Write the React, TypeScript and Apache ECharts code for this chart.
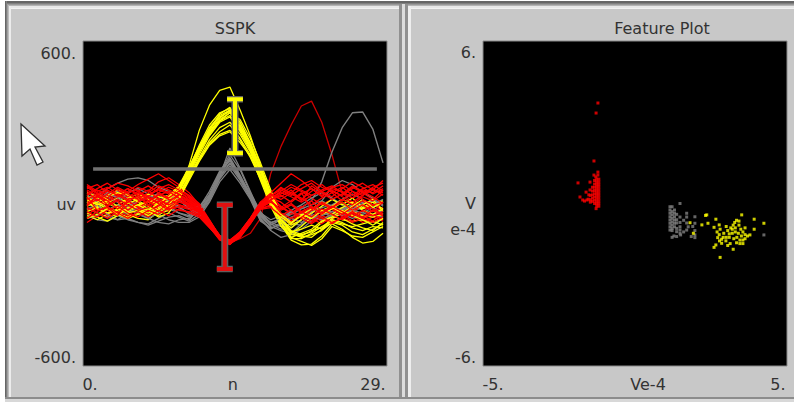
import React, { useEffect, useRef } from "react";
import * as echarts from "echarts";

const FONT = "DejaVu Sans";
const TEXT = "#333333";

const yellowTraces = [
  [30,10,-15,-30,-20,-5,5,-10,15,50,140,270,363,418,430,345,250,140,30,-80,-135,-153,-150,-120,-75,-95,-125,-146,-140,-110],
  [-20,-35,-50,-40,-25,-10,-30,-45,-5,40,125,205,280,325,345,300,225,130,25,-70,-125,-140,-155,-130,-85,-100,-120,-125,-105,-85],
  [10,20,0,-15,-40,-55,-60,-30,5,45,110,190,260,310,335,310,240,150,50,-50,-110,-125,-115,-100,-70,-80,-105,-115,-95,-75],
  [40,25,30,50,35,10,-10,-30,-20,25,105,180,250,300,320,265,195,105,15,-65,-105,-95,-80,-95,-70,-55,-75,-90,-100,-70],
  [-45,-60,-40,-20,10,25,15,-5,10,55,120,200,270,330,355,290,205,115,20,-55,-100,-115,-105,-70,-45,-60,-65,-60,-70,-55],
  [0,-10,-25,-5,20,35,20,10,20,60,130,215,290,335,350,275,200,100,5,-75,-110,-85,-50,-25,-10,15,0,-20,-5,10],
  [-30,-15,5,20,5,-20,-35,-15,0,35,100,170,235,280,300,255,190,95,0,-80,-130,-130,-110,-85,-65,-75,-85,-75,-65,-80],
  [20,35,15,-10,-30,-15,5,20,30,65,135,210,275,320,340,280,215,125,35,-45,-80,-60,-35,-10,15,-5,20,-15,5,-20],
  [-55,-40,-20,-35,-50,-35,-15,-25,-10,30,95,160,225,265,290,240,180,85,-10,-85,-115,-120,-100,-90,-55,-35,-30,-45,-50,-40],
  [5,-20,-35,-25,0,15,35,25,15,50,115,195,265,315,345,300,220,120,15,-60,-90,-60,-20,5,-15,-35,-10,15,-15,5],
  [-10,5,25,40,30,5,-20,-40,-25,20,90,165,220,255,270,235,170,90,5,-70,-125,-110,-95,-65,-50,-25,-45,-60,-80,-55],
  [25,0,-20,-40,-55,-40,-25,0,25,60,125,200,265,305,325,270,210,120,30,-50,-75,-40,-55,-25,-40,-15,5,-25,-40,-20],
  [-35,-50,-65,-45,-15,-5,-25,-50,-35,15,85,155,215,250,265,225,175,100,10,-60,-105,-120,-125,-95,-60,-70,-90,-100,-85,-90],
  [15,-5,10,-20,-35,-25,-45,-20,-5,45,115,190,255,305,335,285,225,135,40,-40,-70,-45,-15,-40,-20,5,-25,-5,15,-30],
];

const redTraces = [
  [55,70,40,20,35,60,45,80,95,70,40,-5,-65,-125,-150,-115,-65,-10,30,55,40,70,85,60,45,30,55,75,50,40],
  [-25,-5,15,40,25,5,30,50,35,15,-10,-30,-80,-130,-145,-110,-60,-5,15,-15,-35,-50,-70,-45,-60,-30,-45,-70,-50,-65],
  [40,20,45,25,55,35,15,40,60,45,15,-20,-70,-120,-140,-120,-70,-15,20,40,25,5,30,50,65,40,20,40,55,30],
  [-70,-45,-20,-40,-10,20,5,-15,10,25,5,-25,-75,-128,-150,-105,-55,0,25,-10,-35,-10,-45,-65,-30,-15,-40,-60,-25,-50],
  [10,-15,-35,-5,15,-20,-40,-10,20,-5,-20,-40,-85,-135,-148,-125,-75,-20,-5,-40,-65,-30,-55,-75,-50,-20,-35,-5,-30,-15],
  [35,50,30,5,-15,10,30,55,40,20,-5,-35,-80,-125,-142,-115,-68,-12,15,35,60,45,20,-5,15,35,60,40,15,50],
  [-40,-20,-45,-25,5,-10,-30,-5,25,10,-15,-30,-70,-118,-135,-108,-62,-8,5,-45,-70,-35,-20,-55,-75,-50,-25,-45,-65,-35],
  [70,45,60,35,15,40,20,5,30,55,30,0,-60,-122,-146,-118,-66,-14,18,45,70,50,30,45,60,70,45,30,60,75],
  [20,-5,10,35,55,30,10,-20,0,30,10,-25,-78,-130,-152,-112,-58,-2,20,-10,-40,-15,10,-30,-10,-40,-65,-30,-5,-25],
  [-15,-35,-55,-30,-45,-20,-5,20,-10,-25,-30,-45,-88,-132,-140,-122,-72,-18,-10,-50,-75,-45,-65,-40,-20,-50,-70,-55,-40,-60],
  [50,30,5,25,45,70,90,110,85,60,25,-10,-68,-120,-144,-116,-64,-6,40,75,110,85,55,30,50,25,5,30,50,85],
  [0,25,50,30,10,-15,5,35,15,-5,-15,-35,-75,-126,-138,-106,-56,4,22,5,-25,-50,-25,0,-20,-40,-15,10,-20,-40],
  [-55,-30,-10,-35,-55,-30,-50,-25,-45,-20,-35,-50,-90,-128,-143,-119,-70,-22,-15,-45,-25,-55,-75,-50,-70,-55,-30,-55,-70,-50],
  [30,55,75,50,25,45,65,40,20,45,20,-15,-72,-124,-147,-113,-61,-9,28,50,30,55,75,45,25,55,80,60,35,55],
  [-5,15,-10,10,-25,5,25,0,-25,5,-5,-28,-76,-127,-141,-117,-69,-16,5,-20,0,-30,-10,-35,-15,5,-25,-5,-30,5],
  [65,40,20,55,35,15,40,65,50,35,5,-22,-74,-123,-139,-121,-67,-11,26,60,35,15,45,70,40,60,30,55,70,45],
  [-30,-50,-25,-10,-35,-50,-25,-40,-15,10,-10,-32,-82,-129,-151,-109,-59,-3,12,-35,-55,-30,-50,-20,-40,-60,-35,-50,-25,-45],
  [15,35,10,-20,5,30,50,15,-5,15,0,-18,-66,-121,-137,-111,-63,-7,33,15,40,20,-5,20,40,10,45,15,-5,5],
  [45,10,35,60,40,50,10,30,45,20,-2,-26,-77,-126,-149,-124,-74,-19,14,30,5,35,55,25,55,45,20,50,40,65],
  [-10,30,-5,15,-5,-25,-15,10,-20,-12,-22,-42,-84,-131,-145,-114,-60,-4,10,-25,-5,-35,-15,-40,-10,-30,-50,-25,-45,-30],
  [25,-25,-15,-45,15,25,-5,-30,5,35,12,-12,-62,-119,-136,-104,-54,6,38,-15,10,40,-20,5,-15,15,-5,25,10,35],
  [60,35,55,75,65,45,25,55,70,50,28,-8,-64,-124,-147,-120,-65,-13,16,25,50,10,65,40,15,35,65,45,25,0],
];

const redSpike = [-30,-10,-40,-20,15,-5,10,-15,-30,-5,-15,-35,-70,-118,-145,-130,-110,-55,110,210,290,360,378,300,180,40,5,-20,10,-5];

const grayTraces = [
  [20,5,-20,-45,-60,-70,-75,-55,-35,-50,-65,-40,10,95,150,90,30,-50,-85,-100,-110,-75,-40,10,60,85,70,40,20,-10],
  [-15,-35,-50,-60,-55,-70,-80,-65,-50,-45,-60,-20,35,115,180,125,40,-30,-75,-95,-90,-60,-30,-15,-5,15,35,15,-15,-30],
  [40,30,55,75,90,95,85,60,45,30,-10,-40,20,105,165,95,25,-55,-100,-125,-115,-95,-65,-25,-30,-45,-35,-55,-40,-25],
  [-40,-60,-65,-45,-30,-35,-55,-70,-75,-60,-55,-25,25,100,205,130,45,-40,-70,-85,-75,-80,-55,-45,-30,-15,-30,-15,-5,-20],
  [5,-15,5,25,15,-10,-30,-15,5,-15,-35,-15,45,120,160,100,35,-45,-80,-60,-40,-20,-5,10,-10,-25,-10,5,-5,15],
  [-55,-45,-25,-5,-20,-40,-55,-35,-20,-35,-50,-30,15,90,140,85,20,-60,-95,-70,-50,-35,-50,-60,-40,-20,-5,-25,-45,-50],
  [15,35,25,5,40,55,35,10,30,15,-20,-10,30,110,170,105,30,-35,-60,-45,-25,-5,20,40,20,-5,-20,0,10,-5],
  [-20,-5,-40,-60,-35,-15,-25,-40,-60,-70,-70,-50,5,80,125,75,15,-65,-90,-80,-55,-70,-45,-30,-50,-40,-55,-40,-25,-40],
  [30,10,40,20,-10,5,25,35,10,-10,-40,-25,20,100,150,95,35,-42,-72,-55,-30,-45,-20,-35,-15,-35,-25,-35,-15,5],
];

const graySpike = [-5,15,35,45,20,-20,-5,15,-10,-35,-45,-30,25,110,160,100,30,-40,-70,-60,-35,-15,10,80,190,280,335,338,275,150];

const thresholdLine = [[0.6, 127], [28.4, 127]];
const yellowStem = [[14.5, 385], [14.5, 186]];
const yellowCapTop = [[13.72, 385], [15.28, 385]];
const yellowCapBottom = [[13.72, 186], [15.28, 186]];
const redStem = [[13.5, -5], [13.5, -242]];
const redCapTop = [[12.72, -5], [14.28, -5]];
const redCapBottom = [[12.72, -242], [14.28, -242]];

const redPoints = [
  [-1.22,3.71],[-1.28,3.34],[-1.35,1.57],[-1.22,1.16],[-1.22,1.05],[-1.35,1.05],[-1.29,0.98],[-1.875,0.76],[-1.48,0.79],
  [-1.61,0.42],[-1.81,0.24],[-1.48,0.5],[-1.52,0.32],[-1.58,0.13],[-1.66,0.09],[-1.72,0.13],
  [-1.19,0.9],[-1.19,0.8],[-1.19,0.7],[-1.19,0.6],[-1.19,0.5],[-1.19,0.4],[-1.19,0.3],[-1.19,0.2],[-1.19,0.1],[-1.19,0.0],[-1.19,-0.1],
  [-1.26,0.9],[-1.26,0.8],[-1.26,0.7],[-1.26,0.6],[-1.26,0.5],[-1.26,0.4],[-1.26,0.3],[-1.26,0.2],[-1.26,0.1],[-1.26,0.0],[-1.26,-0.1],[-1.28,-0.19],
  [-1.33,0.85],[-1.33,0.72],[-1.33,0.6],[-1.33,0.48],[-1.33,0.36],[-1.33,0.24],[-1.33,0.12],[-1.33,0.0],
  [-1.4,0.6],[-1.4,0.46],[-1.4,0.32],[-1.4,0.2],[-1.4,0.08],[-1.47,0.3],[-1.47,0.14],[-1.47,0.05],[-1.54,0.16],
];

const grayPoints = [
  [1.15,-0.12],[1.15,-0.24],[1.15,-0.36],[1.15,-0.49],[1.15,-0.61],[1.15,-0.73],[1.15,-0.86],[1.15,-0.98],
  [1.22,-0.12],[1.22,-0.3],[1.22,-0.42],[1.22,-0.55],[1.22,-0.68],[1.22,-0.8],[1.22,-0.92],[1.22,-1.0],
  [1.3,-0.24],[1.3,-0.36],[1.3,-0.49],[1.3,-0.61],[1.3,-0.73],[1.3,-0.86],[1.37,-0.4],[1.37,-0.6],[1.37,-0.72],[1.37,-0.92],[1.37,-1.04],
  [1.48,-0.0],[1.48,-0.5],[1.48,-0.7],[1.48,-0.86],[1.48,-0.98],[1.48,-1.1],[1.28,-1.2],[1.37,-1.22],[1.22,-1.25],[1.5,-1.16],
  [1.6,-0.62],[1.7,-0.36],[1.7,-0.5],[1.7,-0.72],[1.75,-0.86],[1.7,-0.98],[1.6,-1.05],[1.97,-0.49],[1.97,-0.73],[1.9,-0.85],[1.97,-1.0],[1.97,-1.16],[1.85,-1.22],[1.97,-1.26],[4.24,-1.16],
];

const yellowPoints = [
  [1.81,-0.71],[1.92,-1.10],[2.36,-0.42],[2.32,-0.44],[3.51,-0.42],[2.66,-0.58],[3.92,-0.58],[4.24,-0.73],[2.20,-0.79],[2.4,-0.73],
  [2.77,-0.79],[2.6,-0.88],[3.92,-0.95],[3.78,-1.16],[2.80,-1.99],[2.60,-1.62],[2.66,-1.53],[2.85,-1.47],[2.99,-1.38],[3.23,-1.69],
  [2.7,-1.05],[2.77,-1.15],[2.72,-1.26],[2.8,-0.95],[3.0,-0.85],[3.05,-1.0],[3.1,-1.12],[2.92,-1.1],[3.15,-0.9],[3.23,-0.8],
  [3.28,-0.7],[3.34,-0.62],[3.2,-0.95],[3.3,-0.9],[3.42,-0.8],[3.48,-0.95],[3.55,-1.05],[3.62,-1.15],[3.5,-1.2],[3.4,-1.1],
  [3.3,-1.05],[3.2,-1.1],[3.1,-1.25],[3.0,-1.25],[2.9,-1.25],[3.25,-1.3],[3.35,-1.25],[3.45,-1.35],[3.55,-1.35],[3.62,-1.3],
  [3.7,-1.2],[3.34,-1.45],[3.45,-1.48],[3.55,-1.48],[3.13,-1.48],[3.05,-1.55],[2.85,-1.32],[2.78,-1.38],[3.62,-0.9],[3.42,-0.65],
];

const xTickLeft = [0.67, 14.3, 27.66];
const xLabelLeft = ["0.", "n", "29."];
const yTickLeft = [-570, -5, 555];
const yLabelLeft = ["-600.", "uv", "600."];
const xTickRight = [-4.67, 0.43, 4.7];
const xLabelRight = ["-5.", "Ve-4", "5."];
const yTickRight = [-5.7, 0, 5.56];
const yLabelRight = ["-6.", "\nV\ne-4", "6."];

const frameStrips = [
  ["#ffffff", 0, 0, 794, 1], ["#ffffff", 0, 0, 5, 402],
  ["#666666", 5, 1, 789, 2], ["#808080", 5, 3, 789, 1], ["#999999", 5, 4, 789, 1], ["#b4b4b4", 5, 5, 789, 1], ["#e8e8e8", 9, 6, 785, 2], ["#f2f2f2", 9, 8, 785, 1],
  ["#666666", 5, 1, 1, 397], ["#808080", 6, 1, 1, 397], ["#a0a0a0", 7, 4, 1, 394], ["#bdbdbd", 8, 5, 1, 393], ["#ececec", 9, 6, 2, 391],
  ["#909090", 399, 4, 3, 395], ["#dcdcdc", 402, 4, 3, 395], ["#909090", 405, 4, 3, 395], ["#eeeeee", 408, 6, 3, 391],
  ["#8c8c8c", 5, 397, 789, 2], ["#d8d8d8", 5, 399, 789, 3],
];

const cursorOutline = [[21, 124], [45, 146], [35, 147], [43, 162], [37, 165], [30, 149], [22, 156]];

function line(data: number[][], color: string, width: number, z: number) {
  return {
    type: "line", xAxisIndex: 1, yAxisIndex: 0, data, showSymbol: false, symbol: "none", z,
    lineStyle: { color, width, cap: "butt" }, silent: true, clip: true,
  };
}

function trace(values: number[], color: string, width: number, z: number) {
  return line(values.map((v, i) => [i, v]), color, width, z);
}

function scatter(data: number[][], color: string, z: number) {
  return {
    type: "scatter", xAxisIndex: 2, yAxisIndex: 1, data, symbol: "rect", symbolSize: 3, z,
    itemStyle: { color }, silent: true,
  };
}

function labelFor(ticks: number[], labels: string[]) {
  return (value: number) => {
    const i = ticks.findIndex((t) => Math.abs(t - value) < 1e-6);
    return i >= 0 ? labels[i] : "";
  };
}

export default function App() {
  const ref = useRef<HTMLDivElement>(null);
  useEffect(() => {
    document.body.style.margin = "0";
    const chart = echarts.init(ref.current!, undefined, { renderer: "svg" });

    const traces: any[] = [];
    const n = Math.max(yellowTraces.length, redTraces.length, grayTraces.length);
    traces.push(trace(redSpike, "#c80000", 1.3, 2));
    traces.push(trace(graySpike, "#808080", 1.4, 2));
    for (let k = 0; k < n; k++) {
      if (yellowTraces[k]) traces.push(trace(yellowTraces[k], "#ffff00", 1.3, 2));
      if (redTraces[k]) traces.push(trace(redTraces[k], "#ff0000", 1.3, 2));
      if (grayTraces[k]) traces.push(trace(grayTraces[k], "#808080", 1.3, 2));
    }

    const axisLabelBase = { color: TEXT, fontFamily: FONT, fontSize: 16 };
    const xAxisBase = {
      type: "value", axisLine: { show: false }, axisTick: { show: false }, splitLine: { show: false },
    };

    chart.setOption({
      animation: false,
      backgroundColor: "#c8c8c8",
      title: [
        { text: "SSPK", left: 235, top: 20, padding: 0, textAlign: "center", textStyle: { ...axisLabelBase, fontWeight: "normal" } },
        { text: "Feature Plot", left: 662, top: 20, padding: 0, textAlign: "center", textStyle: { ...axisLabelBase, fontWeight: "normal" } },
      ],
      grid: [
        { left: 83, top: 41, width: 304, height: 325, show: true, backgroundColor: "#000000", borderColor: "#8a8a8a", borderWidth: 1 },
        { left: 483, top: 41, width: 304, height: 325, show: true, backgroundColor: "#000000", borderColor: "#8a8a8a", borderWidth: 1 },
      ],
      xAxis: [
        { ...xAxisBase, gridIndex: 0, min: 0, max: 29, axisLabel: { ...axisLabelBase, margin: 10, customValues: xTickLeft, formatter: labelFor(xTickLeft, xLabelLeft) } },
        { ...xAxisBase, gridIndex: 0, min: -0.39, max: 29.39, show: false },
        { ...xAxisBase, gridIndex: 1, min: -5, max: 5, axisLabel: { ...axisLabelBase, margin: 10, customValues: xTickRight, formatter: labelFor(xTickRight, xLabelRight) } },
      ],
      yAxis: [
        { type: "value", gridIndex: 0, min: -600, max: 600, axisLine: { show: false }, axisTick: { show: false }, splitLine: { show: false }, axisLabel: { ...axisLabelBase, margin: 7, customValues: yTickLeft, formatter: labelFor(yTickLeft, yLabelLeft) } },
        { type: "value", gridIndex: 1, min: -6, max: 6, axisLine: { show: false }, axisTick: { show: false }, splitLine: { show: false }, axisLabel: { ...axisLabelBase, margin: 7, lineHeight: 26, customValues: yTickRight, formatter: labelFor(yTickRight, yLabelRight) } },
      ],
      graphic: [
        ...frameStrips.map(([fill, x, y, width, height]) => ({
          type: "rect", silent: true, shape: { x, y, width, height }, style: { fill },
        })),
        {
          type: "polygon", silent: true, shape: { points: cursorOutline },
          style: { fill: "#ffffff", stroke: "#303030", lineWidth: 1.3 },
        },
      ],
      series: [
        ...traces,
        line(thresholdLine, "#707070", 3.5, 5),
        line(yellowStem, "#606060", 7, 6),
        line(yellowCapTop, "#606060", 6.5, 6),
        line(yellowCapBottom, "#606060", 6.5, 6),
        line(yellowStem, "#ffff00", 4, 7),
        line(yellowCapTop, "#ffff00", 4, 7),
        line(yellowCapBottom, "#ffff00", 4, 7),
        line(redStem, "#606060", 7, 6),
        line(redCapTop, "#606060", 6.5, 6),
        line(redCapBottom, "#606060", 6.5, 6),
        line(redStem, "#e01010", 4, 7),
        line(redCapTop, "#e01010", 4, 7),
        line(redCapBottom, "#e01010", 4, 7),
        scatter(grayPoints, "#808080", 2),
        scatter(yellowPoints, "#ffff00", 3),
        scatter(redPoints, "#ff0000", 2),
      ],
    });
    return () => chart.dispose();
  }, []);
  return <div ref={ref} style={{ width: 794, height: 402 }} />;
}
